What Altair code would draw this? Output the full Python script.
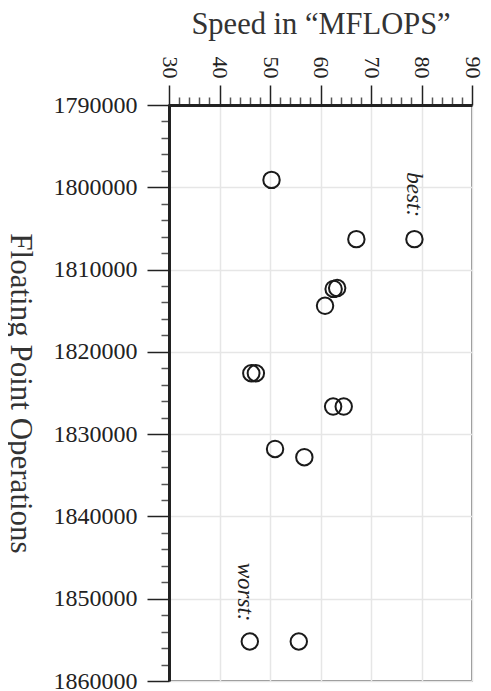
import altair as alt
import pandas as pd

# Data
flops = [1799100, 1806300, 1806300, 1812250, 1812350, 1814400, 1822600, 1822600,
         1826650, 1826650, 1831800, 1832800, 1855200, 1855200]
speed = [50.3, 67.1, 78.6, 63.3, 62.6, 60.9, 46.3, 47.2,
         62.5, 64.6, 51.0, 56.8, 46.0, 55.7]

ann_text = ["best:", "worst:"]
ann_speed = [78.6, 45.1]
ann_flops = [1800900, 1849200]

x_ticks = list(range(30, 91, 2))
y_ticks = list(range(1790000, 1860001, 2000))

df = pd.DataFrame({"flops": flops, "speed": speed})
ann = pd.DataFrame({"t": ann_text, "speed": ann_speed, "flops": ann_flops})

FONT = "Liberation Serif"

x_enc = alt.X(
    "speed:Q",
    scale=alt.Scale(domain=[30, 90], nice=False, zero=False),
    axis=alt.Axis(
        orient="top",
        title="Speed in \u201cMFLOPS\u201d",
        titleFont=FONT, titleFontSize=30.5, titleFontWeight="normal", titleColor="#333",
        titleY=-72, titleBaseline="alphabetic",
        values=x_ticks,
        labelExpr="datum.value % 10 === 0 ? datum.label : ''",
        labelAngle=90, labelAlign="right", labelBaseline="middle",
        labelFont=FONT, labelFontSize=22, labelColor="#222", labelPadding=7,
        tickSize={"condition": {"test": "datum.value % 10 === 0", "value": 20}, "value": 8},
        tickColor={"condition": {"test": "datum.value % 10 === 0", "value": "#222"}, "value": "#555"},
        tickWidth=1.5,
        domainColor="#222", domainWidth=3,
        grid=True,
        gridColor={"condition": {"test": "datum.value % 10 === 0", "value": "#e6e6e6"}, "value": "transparent"},
        gridWidth=1.5,
        labelOverlap=False,
    ),
)

y_enc = alt.Y(
    "flops:Q",
    scale=alt.Scale(domain=[1790000, 1860000], nice=False, zero=False, reverse=True),
    axis=alt.Axis(
        orient="left",
        title="Floating Point Operations",
        titleFont=FONT, titleFontSize=31, titleFontWeight="normal", titleColor="#333",
        titleAngle=90, titleX=-150, titleY=288, titleAlign="center", titleBaseline="middle",
        values=y_ticks,
        format="d",
        labelExpr="datum.value % 10000 === 0 ? datum.label : ''",
        labelFont=FONT, labelFontSize=24, labelColor="#222", labelPadding=10,
        tickSize={"condition": {"test": "datum.value % 10000 === 0", "value": 22}, "value": 8},
        tickColor={"condition": {"test": "datum.value % 10000 === 0", "value": "#222"}, "value": "#555"},
        tickWidth=1.5,
        domainColor="#222", domainWidth=3,
        grid=True,
        gridColor={"condition": {"test": "datum.value % 10000 === 0", "value": "#e6e6e6"}, "value": "transparent"},
        gridWidth=1.5,
        labelOverlap=False,
    ),
)

points = alt.Chart(df).mark_point(
    shape="circle", filled=False, size=270, strokeWidth=2, color="#1a1a1a", opacity=1
).encode(x=x_enc, y=y_enc)

labels = alt.Chart(ann).mark_text(
    font=FONT, fontSize=23, fontStyle="italic", angle=90,
    align="center", baseline="middle", color="#222"
).encode(x=x_enc, y=y_enc, text="t:N")

chart = (
    alt.layer(points, labels)
    .properties(
        width=303, height=576,
        autosize=alt.AutoSizeParams(type="none"),
        padding={"left": 161, "top": 97, "right": 11, "bottom": 10},
    )
    .configure_view(stroke="#888", strokeWidth=2)
)

chart.save("out.html", embed_options={"renderer": "svg", "actions": False})
